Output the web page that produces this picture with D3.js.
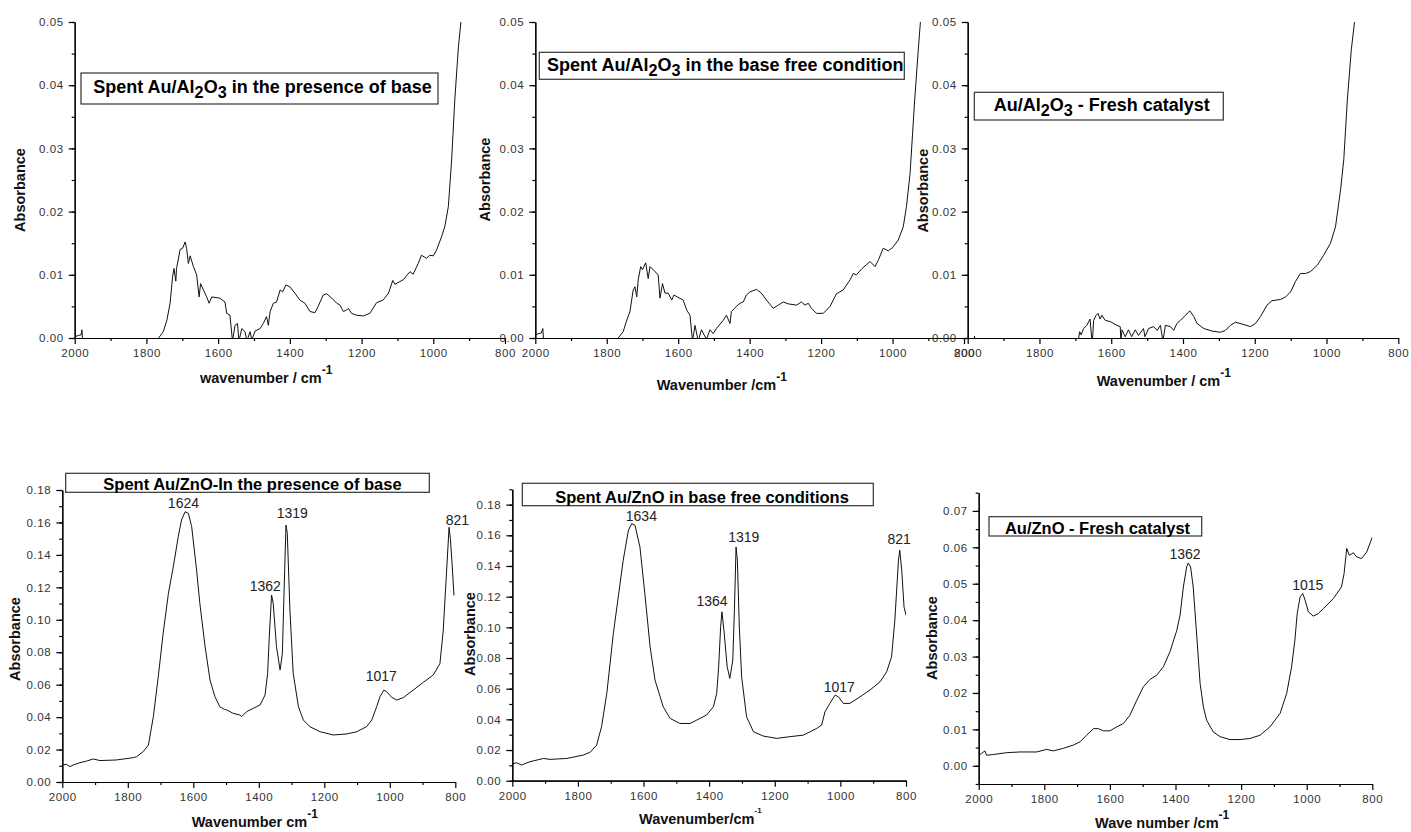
<!DOCTYPE html>
<html>
<head>
<meta charset="utf-8">
<script src="https://cdn.jsdelivr.net/npm/d3@7"></script>
<style>
body { margin: 0; background: #fff; }
svg text { font-family: "Liberation Sans", Arial, sans-serif; }
.tick text { fill: #333; font-size: 11.5px; letter-spacing: 0.6px; }
.domain, .tick line { stroke: #000; stroke-width: 1.2px; }
</style>
</head>
<body>
<svg id="chart" width="1411" height="832"></svg>
<script>
// Spectra: wavenumber (cm-1) and absorbance
var alBaseWn = [2000, 1990, 1982, 1980, 1977, 1960, 1800, 1768, 1766, 1753, 1743, 1734, 1727, 1723, 1718, 1716, 1706, 1699, 1692, 1688, 1683, 1678, 1669, 1660, 1653, 1649, 1641, 1632, 1625, 1618, 1595, 1581, 1576, 1567, 1560, 1553, 1546, 1542, 1534, 1525, 1520, 1511, 1506, 1497, 1483, 1474, 1465, 1460, 1455, 1446, 1437, 1427, 1420, 1411, 1400, 1386, 1372, 1358, 1344, 1330, 1321, 1307, 1297, 1283, 1269, 1260, 1251, 1242, 1237, 1228, 1214, 1195, 1177, 1158, 1140, 1125, 1113, 1107, 1084, 1065, 1056, 1042, 1033, 1019, 1010, 1000, 991, 977, 968, 958, 949, 940, 930, 923];
var alBaseAbs = [0.0002, 0.0004, 0.0005, 0.0013, -0.001, -0.002, -0.002, -0.001, 0.0, 0.001, 0.0028, 0.0055, 0.0097, 0.011, 0.009, 0.011, 0.014, 0.0142, 0.0152, 0.0142, 0.0118, 0.013, 0.0113, 0.010, 0.0065, 0.0086, 0.0076, 0.0065, 0.0055, 0.0065, 0.0063, 0.0057, 0.0039, 0.0036, -0.0005, 0.002, 0.0023, -0.0005, 0.0015, 0.001, -0.0005, 0.001, -0.0003, 0.0011, 0.0015, 0.0023, 0.0034, 0.002, 0.0042, 0.0055, 0.0057, 0.0076, 0.0073, 0.0084, 0.0081, 0.0071, 0.006, 0.0055, 0.0042, 0.004, 0.005, 0.0068, 0.007, 0.0063, 0.0055, 0.0052, 0.0042, 0.0044, 0.0047, 0.0039, 0.0036, 0.0035, 0.0039, 0.0056, 0.006, 0.0071, 0.0091, 0.0085, 0.0092, 0.0105, 0.0101, 0.0118, 0.0131, 0.0126, 0.0131, 0.013, 0.0139, 0.016, 0.0176, 0.0208, 0.028, 0.0377, 0.046, 0.05];

var alFreeWn = [2000, 1990, 1983, 1979, 1976, 1900, 1770, 1768, 1754, 1744, 1735, 1726, 1721, 1716, 1712, 1705, 1700, 1691, 1684, 1679, 1665, 1656, 1651, 1644, 1637, 1628, 1618, 1612, 1586, 1576, 1567, 1560, 1553, 1544, 1535, 1521, 1511, 1502, 1493, 1474, 1465, 1455, 1451, 1437, 1427, 1418, 1409, 1399, 1381, 1367, 1353, 1334, 1320, 1306, 1292, 1269, 1255, 1245, 1236, 1227, 1213, 1194, 1175, 1157, 1138, 1119, 1110, 1101, 1087, 1063, 1049, 1040, 1026, 1012, 1000, 984, 970, 961, 951, 938, 928, 922];
var alFreeAbs = [0.0005, 0.0007, 0.0008, 0.0015, -0.001, -0.002, -0.0005, 0.0, 0.001, 0.0028, 0.0042, 0.0076, 0.0081, 0.0065, 0.0092, 0.0113, 0.0108, 0.0119, 0.0094, 0.0113, 0.0105, 0.010, 0.0063, 0.0086, 0.0071, 0.0071, 0.006, 0.0068, 0.006, 0.0044, 0.0036, -0.0005, 0.002, -0.0005, 0.0013, -0.0002, 0.0013, 0.0007, 0.0015, 0.0028, 0.0036, 0.0023, 0.0042, 0.005, 0.0055, 0.0057, 0.0068, 0.0073, 0.0077, 0.0071, 0.006, 0.0047, 0.0052, 0.0057, 0.0054, 0.0052, 0.0057, 0.0052, 0.0055, 0.0047, 0.0039, 0.0039, 0.005, 0.007, 0.0076, 0.0092, 0.0102, 0.010, 0.0109, 0.0121, 0.0113, 0.0123, 0.0142, 0.0138, 0.0143, 0.0155, 0.0176, 0.0208, 0.026, 0.0377, 0.0456, 0.05];

var alFreshWn = [2000, 1982, 1981, 1980, 1692, 1688, 1684, 1677, 1668, 1659, 1653, 1649, 1642, 1637, 1631, 1626, 1617, 1603, 1584, 1575, 1573, 1570, 1561, 1552, 1543, 1533, 1524, 1510, 1506, 1496, 1482, 1472, 1463, 1456, 1449, 1435, 1426, 1417, 1407, 1393, 1381, 1370, 1361, 1342, 1319, 1296, 1282, 1268, 1254, 1235, 1212, 1198, 1184, 1166, 1152, 1128, 1114, 1100, 1087, 1073, 1059, 1045, 1026, 1008, 989, 975, 961, 952, 942, 931, 922];
var alFreshAbs = [-0.002, -0.001, 0.0003, -0.001, -0.0005, 0.001, 0.0005, 0.0015, 0.002, 0.003, -0.001, 0.0028, 0.0036, 0.0039, 0.003, 0.0036, 0.0028, 0.0026, 0.002, 0.0018, -0.0005, 0.0013, 0.0002, 0.0013, 0.0002, 0.0013, 0.0004, 0.0015, 0.0002, 0.0015, 0.0018, 0.0012, 0.002, -0.0005, 0.002, 0.0018, 0.0012, 0.0023, 0.0028, 0.0036, 0.0043, 0.0034, 0.0023, 0.0015, 0.0011, 0.0009, 0.0012, 0.002, 0.0025, 0.0022, 0.0018, 0.0023, 0.0034, 0.0052, 0.0059, 0.0061, 0.0065, 0.0073, 0.0089, 0.0102, 0.0102, 0.0105, 0.0115, 0.0131, 0.015, 0.0176, 0.0234, 0.0282, 0.0377, 0.0456, 0.05];

var znBaseWn = [2000, 1987, 1977, 1966, 1946, 1926, 1905, 1885, 1834, 1783, 1773, 1753, 1737, 1722, 1707, 1692, 1676, 1661, 1646, 1636, 1625, 1615, 1605, 1590, 1580, 1564, 1549, 1534, 1519, 1505, 1498, 1478, 1458, 1452, 1437, 1417, 1396, 1381, 1373, 1368, 1361, 1356, 1346, 1335, 1328, 1323, 1317, 1313, 1305, 1295, 1279, 1264, 1244, 1213, 1173, 1132, 1101, 1071, 1055, 1040, 1030, 1018, 1010, 994, 979, 959, 928, 898, 867, 847, 837, 828, 819, 815, 810, 804];
var znBaseAbs = [0.0105, 0.0109, 0.0095, 0.0105, 0.0119, 0.0129, 0.0142, 0.0132, 0.0136, 0.015, 0.0156, 0.0187, 0.0228, 0.0403, 0.0649, 0.0916, 0.1163, 0.1327, 0.1512, 0.1615, 0.1666, 0.1656, 0.1574, 0.1307, 0.1101, 0.0834, 0.0629, 0.0526, 0.0464, 0.0448, 0.0444, 0.0423, 0.0413, 0.0403, 0.0434, 0.0454, 0.0475, 0.0536, 0.067, 0.0896, 0.1153, 0.1101, 0.0834, 0.069, 0.0793, 0.1163, 0.1584, 0.1533, 0.106, 0.067, 0.0464, 0.0382, 0.0341, 0.031, 0.029, 0.0296, 0.031, 0.0341, 0.0382, 0.0464, 0.0526, 0.0567, 0.0557, 0.0522, 0.0505, 0.052, 0.0567, 0.0614, 0.066, 0.073, 0.093, 0.125, 0.157, 0.150, 0.135, 0.115];

var znFreeWn = [2000, 1987, 1972, 1946, 1905, 1885, 1834, 1784, 1763, 1743, 1728, 1712, 1692, 1677, 1662, 1646, 1636, 1626, 1611, 1596, 1580, 1565, 1540, 1519, 1489, 1458, 1438, 1408, 1387, 1377, 1371, 1365, 1361, 1355, 1345, 1337, 1328, 1323, 1318, 1314, 1308, 1301, 1286, 1265, 1235, 1194, 1154, 1113, 1072, 1057, 1047, 1032, 1016, 1006, 991, 971, 940, 910, 879, 859, 844, 834, 823, 819, 813, 806, 800];
var znFreeAbs = [0.0109, 0.0117, 0.0102, 0.0124, 0.0145, 0.0139, 0.0145, 0.0167, 0.0185, 0.0232, 0.0352, 0.0569, 0.096, 0.1199, 0.1437, 0.1633, 0.1676, 0.1665, 0.1524, 0.122, 0.0873, 0.0656, 0.0482, 0.0406, 0.0373, 0.0373, 0.0395, 0.0428, 0.0482, 0.0569, 0.0743, 0.1003, 0.1101, 0.0981, 0.0743, 0.0667, 0.0786, 0.1112, 0.1524, 0.1437, 0.1003, 0.0677, 0.0417, 0.0319, 0.0291, 0.0276, 0.0287, 0.0297, 0.0341, 0.0363, 0.0449, 0.0504, 0.0558, 0.0547, 0.0504, 0.0504, 0.0547, 0.0591, 0.0645, 0.071, 0.0808, 0.1047, 0.1437, 0.1503, 0.1372, 0.1133, 0.1079];

var znFreshWn = [2000, 1991, 1981, 1976, 1955, 1915, 1874, 1823, 1793, 1772, 1742, 1711, 1691, 1671, 1650, 1635, 1620, 1600, 1579, 1559, 1539, 1518, 1498, 1478, 1457, 1437, 1417, 1396, 1386, 1376, 1366, 1361, 1354, 1346, 1335, 1325, 1315, 1305, 1285, 1264, 1234, 1203, 1173, 1142, 1112, 1081, 1061, 1046, 1036, 1029, 1020, 1012, 1005, 995, 980, 965, 949, 919, 894, 886, 878, 870, 858, 848, 833, 817, 800];
var znFreshAbs = [0.0029, 0.0034, 0.0041, 0.0029, 0.0031, 0.0036, 0.0038, 0.0038, 0.0045, 0.0041, 0.0048, 0.0057, 0.0066, 0.0084, 0.0102, 0.0102, 0.0096, 0.0096, 0.0107, 0.0116, 0.0139, 0.018, 0.0217, 0.0237, 0.0249, 0.0272, 0.0313, 0.0372, 0.0414, 0.0491, 0.0546, 0.0557, 0.0546, 0.0491, 0.0354, 0.0226, 0.0162, 0.0125, 0.0093, 0.008, 0.0072, 0.0072, 0.0075, 0.0084, 0.0107, 0.0144, 0.0199, 0.0272, 0.0345, 0.0418, 0.0464, 0.0473, 0.0455, 0.0423, 0.0411, 0.0418, 0.0432, 0.0459, 0.0491, 0.0528, 0.0597, 0.0578, 0.0585, 0.0574, 0.0569, 0.0587, 0.0628];

// Peak labels (cm-1)
var znBasePeaks = [1624, 1362, 1319, 1017, 821];
var znFreePeaks = [1634, 1364, 1319, 1017, 821];
var znFreshPeaks = [1362, 1015];

// Titles: [text, isSubscript]
var titleAlBase = [["Spent Au/Al", 0], ["2", 1], ["O", 0], ["3", 1], [" in the presence of base", 0]];
var titleAlFree = [["Spent Au/Al", 0], ["2", 1], ["O", 0], ["3", 1], [" in the base free condition", 0]];
var titleAlFresh = [["Au/Al", 0], ["2", 1], ["O", 0], ["3", 1], [" - Fresh catalyst", 0]];
var titleZnBase = [["Spent Au/ZnO-In the presence of base", 0]];
var titleZnFree = [["Spent Au/ZnO in base free conditions", 0]];
var titleZnFresh = [["Au/ZnO - Fresh catalyst", 0]];

var xTitles = ["wavenumber / cm", "Wavenumber /cm", "Wavenumber / cm", "Wavenumber cm", "Wavenumber/cm", "Wave number /cm"];
var yTitle = "Absorbance";

// Layout (pixels)
var panels = [
    { wn: alBaseWn, ab: alBaseAbs, xr: [74.7, 505], yr: [338, 22], yd: [0, 0.05], yMaj: [0, 5, 0.01], yMin: [0, 10, 0.005],
      title: titleAlBase, tfs: 18, box: [81, 73, 438, 104], tx: 262.5, ty: 92.7,
      xt: 0, xtPos: [200, 383], supFs: 12, ytPos: [20.3, 190], peaks: [], offs: [] },
    { wn: alFreeWn, ab: alFreeAbs, xr: [535.3, 964], yr: [338, 22], yd: [0, 0.05], yMaj: [0, 5, 0.01], yMin: [0, 10, 0.005],
      title: titleAlFree, tfs: 18, box: [539.3, 52.3, 904.3, 79.3], tx: 725.3, ty: 71,
      xt: 1, xtPos: [656.7, 389.5], supFs: 12, ytPos: [485.3, 179.5], peaks: [], offs: [] },
    { wn: alFreshWn, ab: alFreshAbs, xr: [967.7, 1398.3], yr: [338, 22], yd: [0, 0.05], yMaj: [0, 5, 0.01], yMin: [0, 10, 0.005],
      title: titleAlFresh, tfs: 18, box: [974.3, 92.3, 1223.3, 120], tx: 1101.7, ty: 111,
      xt: 2, xtPos: [1096.7, 386], supFs: 12, ytPos: [922.5, 190.7], peaks: [], offs: [] },
    { wn: znBaseWn, ab: znBaseAbs, xr: [62.3, 455.3], yr: [782, 490], yd: [0, 0.18], yMaj: [0, 9, 0.02], yMin: [0, 18, 0.01],
      title: titleZnBase, tfs: 16.5, box: [65.7, 473.3, 429.3, 492.3], tx: 252.5, ty: 489.5,
      xt: 3, xtPos: [191.7, 827.3], supFs: 12, ytPos: [15.3, 639], peaks: znBasePeaks,
      offs: [[-2, 4], [-6, 4], [7, 7], [-3, 9], [9, 2]] },
    { wn: znFreeWn, ab: znFreeAbs, xr: [512.3, 906], yr: [780.7, 489.3], yd: [0, 0.19], yMaj: [0, 9, 0.02], yMin: [0, 19, 0.01],
      title: titleZnFree, tfs: 16.5, box: [522.3, 483.3, 873.3, 505.7], tx: 702, ty: 502.5,
      xt: 4, xtPos: [639, 824], supFs: 8, ytPos: [469.5, 634], peaks: znFreePeaks,
      offs: [[9, 3], [-9, 6], [8, 5], [4.5, 3], [0, 6]] },
    { wn: znFreshWn, ab: znFreshAbs, xr: [978.7, 1372.3], yr: [784, 492.7], yd: [-0.005, 0.075], yMaj: [0, 7, 0.01], yMin: [-1, 15, 0.005],
      title: titleZnFresh, tfs: 16.5, box: [989, 516.7, 1201.7, 536], tx: 1097.5, ty: 534,
      xt: 5, xtPos: [1095, 828.3], supFs: 12, ytPos: [932, 638], peaks: znFreshPeaks,
      offs: [[-3, 4], [6, 4]] }
];

var xMajor = [2000, 1800, 1600, 1400, 1200, 1000, 800];
var xMinor = [1900, 1700, 1500, 1300, 1100, 900];

function steps(s) {
    var out = [];
    for (var i = s[0]; i <= s[1]; i++) out.push(+(i * s[2]).toFixed(4));
    return out;
}

function cleanAxis(sel) {
    sel.attr("font-size", null).attr("font-family", null);
}

var svg = d3.select("#chart");
var defs = svg.append("defs");

panels.forEach(function(p, i) {
    var x = d3.scaleLinear().domain([2000, 800]).range(p.xr);
    var y = d3.scaleLinear().domain(p.yd).range(p.yr);
    var g = svg.append("g");

    defs.append("clipPath").attr("id", "clip" + i).append("rect")
        .attr("x", p.xr[0]).attr("y", p.yr[1])
        .attr("width", p.xr[1] - p.xr[0]).attr("height", p.yr[0] - p.yr[1]);

    // Minor ticks
    g.append("g").attr("transform", "translate(0," + p.yr[0] + ")")
        .call(d3.axisBottom(x).tickValues(xMinor).tickSize(3).tickFormat("").tickSizeOuter(0))
        .call(cleanAxis);
    g.append("g").attr("transform", "translate(" + p.xr[0] + ",0)")
        .call(d3.axisLeft(y).tickValues(steps(p.yMin)).tickSize(3).tickFormat("").tickSizeOuter(0))
        .call(cleanAxis);

    // Major ticks
    g.append("g").attr("transform", "translate(0," + p.yr[0] + ")")
        .call(d3.axisBottom(x).tickValues(xMajor).tickSize(6).tickPadding(5).tickSizeOuter(0).tickFormat(d3.format("d")))
        .call(cleanAxis);
    g.append("g").attr("transform", "translate(" + p.xr[0] + ",0)")
        .call(d3.axisLeft(y).tickValues(steps(p.yMaj)).tickSize(6).tickPadding(5).tickSizeOuter(0).tickFormat(d3.format(".2f")))
        .call(cleanAxis);

    // Spectrum
    var pts = p.wn.map(function(w, k) { return [w, p.ab[k]]; });
    g.append("path").datum(pts)
        .attr("clip-path", "url(#clip" + i + ")")
        .attr("fill", "none")
        .attr("stroke", "#111")
        .attr("stroke-width", 1)
        .attr("stroke-linejoin", "round")
        .attr("d", d3.line().x(function(d) { return x(d[0]); }).y(function(d) { return y(d[1]); }));

    // Peak labels
    p.peaks.forEach(function(pk, k) {
        var near = pts.filter(function(d) { return Math.abs(d[0] - pk) <= 12; });
        var top = d3.max(near, function(d) { return d[1]; });
        g.append("text")
            .attr("x", x(pk) + p.offs[k][0])
            .attr("y", y(top) - p.offs[k][1])
            .attr("text-anchor", "middle")
            .attr("font-size", 14)
            .attr("fill", "#222")
            .text(pk);
    });

    // Title box
    g.append("rect")
        .attr("x", p.box[0]).attr("y", p.box[1])
        .attr("width", p.box[2] - p.box[0]).attr("height", p.box[3] - p.box[1])
        .attr("fill", "#fff").attr("stroke", "#333").attr("stroke-width", 1.2);
    var t = g.append("text")
        .attr("x", p.tx).attr("y", p.ty)
        .attr("text-anchor", "middle")
        .attr("font-size", p.tfs)
        .attr("font-weight", "bold")
        .attr("fill", "#000");
    var prevSub = 0;
    p.title.forEach(function(part) {
        var shift = (part[1] ? 5 : 0) - (prevSub ? 5 : 0);
        t.append("tspan")
            .attr("dy", shift)
            .attr("font-size", part[1] ? p.tfs * 0.9 : p.tfs)
            .text(part[0]);
        prevSub = part[1];
    });

    // Axis titles
    var xtt = g.append("text")
        .attr("x", p.xtPos[0]).attr("y", p.xtPos[1])
        .attr("font-size", 14.5).attr("font-weight", "bold").attr("fill", "#111");
    xtt.append("tspan").text(xTitles[p.xt]);
    xtt.append("tspan").attr("dy", p.supFs > 10 ? -9 : -11).attr("font-size", p.supFs).text("-1");

    g.append("text")
        .attr("transform", "translate(" + (p.ytPos[0] + 5) + "," + p.ytPos[1] + ") rotate(-90)")
        .attr("text-anchor", "middle")
        .attr("font-size", 14.5).attr("font-weight", "bold").attr("fill", "#111")
        .text(yTitle);
});
</script>
</body>
</html>
